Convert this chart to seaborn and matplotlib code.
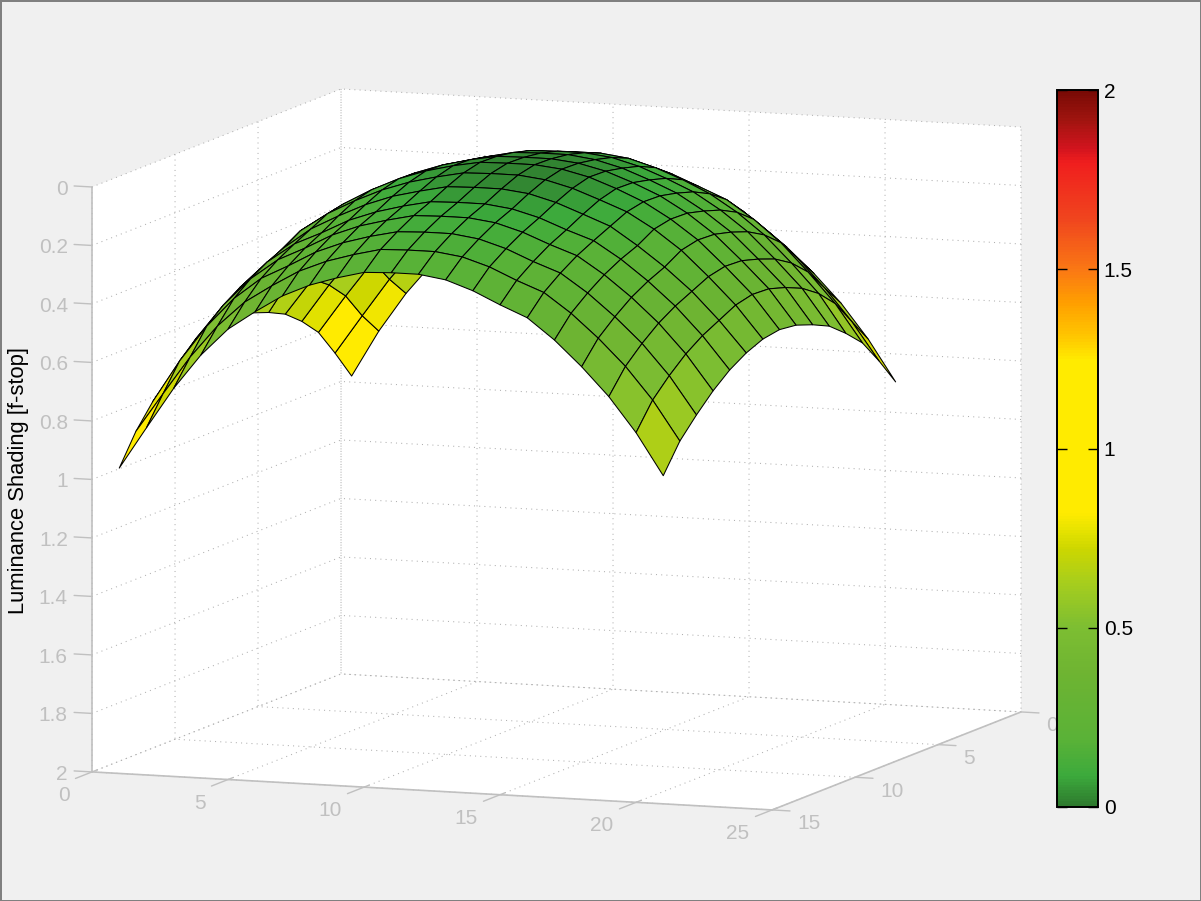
import numpy as np
import seaborn as sns
import matplotlib
matplotlib.use("Agg")
import matplotlib.pyplot as plt
from matplotlib.colors import LinearSegmentedColormap, Normalize
from matplotlib.cm import ScalarMappable
from mpl_toolkits.mplot3d import proj3d

sns.set_theme(style="white")
plt.rcParams['font.family'] = ['Liberation Sans', 'DejaVu Sans']

# shading, one row per y node, x = 1..21
y01 = [.954, .795, .661, .55, .46, .395, .335, .293, .263, .24, .236, .236, .25, .28, .32, .362, .43, .515, .612, .73, .87]
y02 = [.853, .72, .59, .478, .385, .325, .265, .226, .198, .175, .172, .172, .185, .214, .255, .29, .36, .44, .537, .647, .776]
y03 = [.76, .63, .507, .394, .311, .255, .198, .162, .136, .114, .111, .111, .123, .151, .189, .228, .29, .365, .46, .563, .692]
y04 = [.70, .57, .453, .344, .265, .205, .152, .117, .092, .072, .068, .068, .08, .107, .143, .186, .244, .316, .407, .506, .637]
y05 = [.653, .528, .415, .31, .233, .175, .124, .091, .067, .047, .044, .044, .055, .08, .116, .157, .214, .283, .371, .466, .59]
y06 = [.625, .477, .366, .268, .204, .15, .107, .074, .051, .031, .028, .028, .04, .064, .099, .139, .195, .262, .349, .441, .563]
y07 = [.604, .457, .349, .253, .189, .137, .094, .062, .039, .022, .02, .02, .03, .052, .086, .126, .18, .247, .332, .423, .542]
y08 = [.60, .454, .346, .25, .187, .135, .092, .06, .037, .02, .018, .018, .028, .05, .084, .124, .178, .244, .329, .42, .535]
y09 = [.605, .469, .36, .263, .199, .15, .108, .076, .053, .034, .031, .031, .042, .066, .10, .136, .19, .257, .342, .434, .545]
y10 = [.63, .50, .388, .299, .229, .18, .136, .102, .079, .059, .056, .056, .067, .092, .127, .163, .224, .292, .37, .464, .57]
y11 = [.665, .532, .417, .325, .258, .215, .167, .133, .108, .088, .085, .085, .097, .122, .158, .19, .248, .318, .398, .494, .606]
y12 = [.716, .574, .455, .36, .29, .245, .195, .159, .134, .113, .11, .11, .122, .149, .186, .219, .279, .351, .434, .534, .655]
y13 = [.775, .629, .505, .405, .331, .283, .231, .194, .167, .146, .142, .142, .155, .183, .222, .256, .319, .395, .481, .586, .715]
y14 = [.853, .719, .588, .477, .39, .329, .274, .235, .207, .184, .181, .181, .194, .223, .264, .30, .366, .446, .537, .647, .782]
y15 = [.956, .813, .673, .554, .46, .395, .336, .294, .264, .24, .236, .236, .25, .282, .325, .364, .435, .521, .618, .736, .878]
rows = [y01, y02, y03, y04, y05, y06, y07, y08, y09, y10, y11, y12, y13, y14, y15]

x_nodes = list(range(1, 22))
y_nodes = list(range(1, 16))
x_ticks = [0, 5, 10, 15, 20, 25]
y_ticks = [0, 5, 10, 15]
z_ticks = [0, .2, .4, .6, .8, 1, 1.2, 1.4, 1.6, 1.8, 2]
z_labels = ['0', '0.2', '0.4', '0.6', '0.8', '1', '1.2', '1.4', '1.6', '1.8', '2']
cbar_ticks = [0, .5, 1, 1.5, 2]
cbar_labels = ['0', '0.5', '1', '1.5', '2']

# colour bar as seen in the picture (value, rgb)
cbar_vals = [0, .084, .186, .37, .5, .62, .72, .76, .82, 1.247, 1.31, 1.405, 1.5, 1.64, 1.8, 1.84, 1.92, 2]
cbar_cols = ['#2e7a2e', '#3caa3c', '#5ab237', '#6eb432', '#7dbe32', '#a5cd1e', '#cdd700', '#e1e100',
             '#ffeb00', '#ffeb00', '#ffc800', '#ffa000', '#fa7814', '#f0461e', '#f01e1e', '#d2141e', '#a0140f', '#780a05']

cmap = LinearSegmentedColormap.from_list('shade', [(v / 2, c) for v, c in zip(cbar_vals, cbar_cols)], N=256)
norm = Normalize(0, 2)

gray = '#c0c0c0'

fig = plt.figure(figsize=(12.01, 9.01), dpi=100, facecolor='#f0f0f0', edgecolor='#808080', linewidth=2)
# the axes box runs past the figure so nothing gets clipped at zoom 1
ax = fig.add_axes([-28.3 / 1201, -133.3 / 901, 1138.9 / 1201, 1138.9 / 901], projection='3d', proj_type='ortho')
ax.set_facecolor('none')
ax.view_init(elev=8.53, azim=-69.35)
ax.set_box_aspect((726.7, 706, 591.5), zoom=1)

X, Y = np.meshgrid(x_nodes, y_nodes)
Z = np.array(rows)
ax.plot_surface(X, Y, Z, facecolors=cmap(norm(Z)), rstride=1, cstride=1,
                edgecolor='black', linewidth=0.75, shade=False)

ax.set_xlim(0, 25)
ax.set_ylim(15, 0)
ax.set_zlim(2, 0)
ax.set_xticks(x_ticks)
ax.set_yticks(y_ticks)
ax.set_zticks(z_ticks)
ax.set_xticklabels([])
ax.set_yticklabels([])
ax.set_zticklabels([])

for axis in [ax.xaxis, ax.yaxis, ax.zaxis]:
    axis.set_pane_color('white')
    axis.pane.set_edgecolor('none')
    axis.line.set_color(gray)
    axis.line.set_linewidth(1.2)
    axis._axinfo['grid'].update(color='#b0b0b0', linestyle=(0, (1, 4)), linewidth=0.75)
    axis._axinfo['tick'].update(inward_factor=0, outward_factor=0)
ax.zaxis.line.set_color('none')

# z axis belongs on the front left corner, matplotlib puts it on the right here
ax.plot([0, 0], [15, 15], [0, 2], color=gray, lw=1.2)
for t in x_ticks:
    ax.plot([t, t], [14.7, 16], [2, 2], color=gray, lw=1)
for t in y_ticks:
    ax.plot([25, 25.66], [t, t], [2, 2], color=gray, lw=1)
for t in z_ticks:
    ax.plot([0, -.66], [15, 15], [t, t], color=gray, lw=1)


def label3d(x, y, z, s, ha):
    px, py, _ = proj3d.proj_transform(x, y, z, ax.get_proj())
    ax.text2D(px, py, s, transform=ax.transData, ha=ha, va='center', fontsize=15, color=gray)


for t in x_ticks:
    label3d(t, 16.355, 2.05, str(t), 'right')
for t in y_ticks:
    label3d(25.92, t, 2.043, str(t), 'left')
for t, lab in zip(z_ticks, z_labels):
    label3d(-.893, 15, t + .012, lab, 'right')

fig.text(19 / 1201, 1 - 480 / 901, 'Luminance Shading [f-stop]', rotation=90,
         ha='center', va='center', fontsize=15.8, color='black')

# colour bar on top, it hides part of the y tick label
cax = fig.add_axes([1056.5 / 1201, 1 - 807 / 901, 41 / 1201, 717 / 901], zorder=5)
cb = fig.colorbar(ScalarMappable(norm=norm, cmap=cmap), cax=cax, ticks=cbar_ticks)
cb.ax.set_yticklabels(cbar_labels)
cb.ax.set_axisbelow(False)
cb.ax.tick_params(direction='in', left=True, right=True, length=7, width=1, color='black',
                  labelsize=15, labelcolor='black', pad=4.5)
cb.outline.set_edgecolor('black')
cb.outline.set_linewidth(1.4)

fig.savefig('out.png', dpi=100)
